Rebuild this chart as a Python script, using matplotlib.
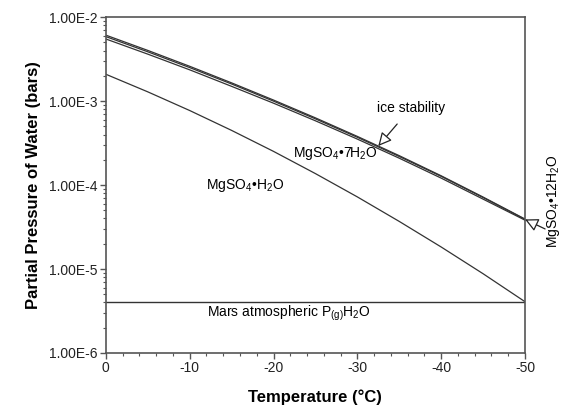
import numpy as np
import matplotlib
matplotlib.use("Agg")
import matplotlib.pyplot as plt
from matplotlib.ticker import FixedLocator, MultipleLocator, FuncFormatter, LogLocator, NullFormatter

plt.rcParams['font.family'] = ['Liberation Sans', 'DejaVu Sans']
plt.rcParams['mathtext.fontset'] = 'custom'
plt.rcParams['mathtext.rm'] = 'Liberation Sans'
plt.rcParams['mathtext.it'] = 'Liberation Sans:italic'
plt.rcParams['mathtext.bf'] = 'Liberation Sans:bold'

# Data
temperature = [0, -5, -10, -15, -20, -25, -30, -35, -40, -45, -50]
ice = [6.11e-3, 4.02e-3, 2.60e-3, 1.65e-3, 1.03e-3, 6.32e-4, 3.80e-4, 2.24e-4, 1.29e-4, 7.20e-5, 3.94e-5]
mgso4_12h2o = [5.87e-3, 3.87e-3, 2.51e-3, 1.60e-3, 1.00e-3, 6.15e-4, 3.71e-4, 2.19e-4, 1.27e-4, 7.10e-5, 3.90e-5]
mgso4_7h2o = [5.50e-3, 3.63e-3, 2.36e-3, 1.50e-3, 9.45e-4, 5.83e-4, 3.53e-4, 2.09e-4, 1.21e-4, 6.80e-5, 3.82e-5]
mgso4_h2o = [2.09e-3, 1.29e-3, 7.73e-4, 4.48e-4, 2.52e-4, 1.37e-4, 7.23e-5, 3.69e-5, 1.83e-5, 8.79e-6, 4.08e-6]
mars_ph2o = 4.0e-6
y_ticks = [1e-6, 1e-5, 1e-4, 1e-3, 1e-2]
y_tick_labels = ["1.00E-6", "1.00E-5", "1.00E-4", "1.00E-3", "1.00E-2"]
x_ticks = [0, -10, -20, -30, -40, -50]

lc = '#333333'
fig = plt.figure(figsize=(5.63, 4.09), dpi=100)
ax = fig.add_axes([0.188, 0.137, 0.7445, 0.821])

for s in (ice, mgso4_12h2o, mgso4_7h2o, mgso4_h2o):
    ax.plot(temperature, s, color=lc, lw=0.9)
ax.axhline(mars_ph2o, color=lc, lw=1.0)

ax.set_yscale('log')
ax.set_xlim(0, -50)
ax.set_ylim(1e-6, 1e-2)
ax.yaxis.set_major_locator(FixedLocator(y_ticks))
ax.yaxis.set_major_formatter(FuncFormatter(lambda v, p: y_tick_labels[y_ticks.index(min(y_ticks, key=lambda t: abs(np.log10(t) - np.log10(v))))]))
ax.yaxis.set_minor_locator(LogLocator(base=10, subs=np.arange(2, 10)))
ax.yaxis.set_minor_formatter(NullFormatter())
ax.xaxis.set_major_locator(FixedLocator(x_ticks))
ax.xaxis.set_minor_locator(MultipleLocator(2))
ax.xaxis.set_major_formatter(FuncFormatter(lambda v, p: f"{int(round(v))}"))

for sp in ax.spines.values():
    sp.set_color('#555555')
    sp.set_linewidth(1.2)
ax.tick_params(which='major', direction='out', length=4, width=1.0, color='#555555', labelsize=10, labelcolor='#222222', pad=2)
ax.tick_params(which='minor', direction='out', length=2.5, width=0.8, color='#555555')

ax.set_xlabel('Temperature (°C)', fontsize=12, fontweight='bold', labelpad=10)
ax.set_ylabel('Partial Pressure of Water (bars)', fontsize=12, fontweight='bold', labelpad=6)

arrow_style = '-|>,head_length=0.8,head_width=0.4'

# Annotations
T_ice = -32.5
y_ice = 10 ** np.interp(-T_ice, [-t for t in temperature], np.log10(ice))
ax.annotate('ice stability', xy=(T_ice, y_ice), xytext=(-36.4, 8.3e-4),
            ha='center', va='center', fontsize=10,
            arrowprops=dict(arrowstyle=arrow_style, fc='white', ec='#222222', lw=0.9, shrinkA=6, shrinkB=0))
ax.text(-27.4, 2.4e-4, r'MgSO$_{\mathrm{4}}$•7H$_{\mathrm{2}}$O', ha='center', va='center', fontsize=10)
ax.text(-16.6, 1.0e-4, r'MgSO$_{\mathrm{4}}$•H$_{\mathrm{2}}$O', ha='center', va='center', fontsize=10)
ax.text(-12.05, 3.0e-6, r'Mars atmospheric P$_{\mathrm{(g)}}$H$_{\mathrm{2}}$O', ha='left', va='center', fontsize=10)

ax.annotate('', xy=(temperature[-1], mgso4_12h2o[-1]), xytext=(-52.4, 3.0e-5),
            annotation_clip=False,
            arrowprops=dict(arrowstyle=arrow_style, fc='white', ec='#222222', lw=0.9, shrinkA=0, shrinkB=0))
ax.text(-53.4, 6.5e-5, r'MgSO$_{\mathrm{4}}$•12H$_{\mathrm{2}}$O', rotation=90, ha='center', va='center', fontsize=10, clip_on=False)

fig.savefig('out.png', dpi=100)
